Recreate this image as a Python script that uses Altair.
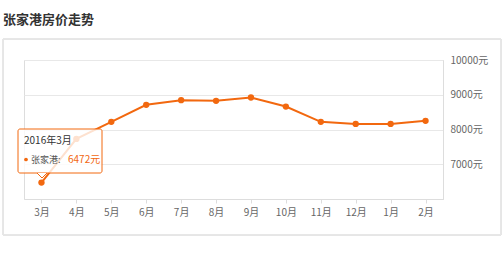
import altair as alt
import pandas as pd

months = ["3月", "4月", "5月", "6月", "7月", "8月", "9月", "10月", "11月", "12月", "1月", "2月"]
prices = [6472, 7730, 8220, 8710, 8845, 8825, 8920, 8660, 8220, 8160, 8160, 8250]
y_ticks = [6000, 7000, 8000, 9000, 10000]
title_text = "张家港房价走势"
tip_date = "2016年3月"
tip_city = "张家港:"

df = pd.DataFrame({"month": months, "price": prices})
FONT = "Noto Sans CJK SC"
ORANGE = "#f2680f"

x = alt.X("month:N", sort=months, scale=alt.Scale(type="point", padding=0.5),
          axis=alt.Axis(title=None, labelAngle=0, labelFontSize=10, labelColor="#666",
                        labelFont=FONT, tickColor="#dddddd", tickSize=4, labelPadding=4,
                        domainColor="#dddddd", grid=False))
y = alt.Y("price:Q", scale=alt.Scale(domain=[6000, 10000], nice=False, zero=False),
          axis=alt.Axis(title=None, orient="right", values=y_ticks, grid=True,
                        gridColor="#e8e8e8", domainColor="#dddddd", ticks=False,
                        labelPadding=7, labelFontSize=10, labelColor="#666", labelFont=FONT,
                        labelExpr="datum.value == 6000 ? '' : datum.value + '元'"))

base = alt.Chart(df)

card = base.mark_rect(fill=None, stroke="#e6e6e6", strokeWidth=1).encode(
    x=alt.value(-21), x2=alt.value(477), y=alt.value(-21), y2=alt.value(175))

title = base.transform_filter(alt.datum.month == months[0]).mark_text(
    text=title_text, align="left", baseline="middle", fontSize=13, fontWeight="bold",
    color="#333", font=FONT).encode(x=alt.value(-21), y=alt.value(-40.5))

line = base.mark_line(color=ORANGE, strokeWidth=2).encode(x=x, y=y)
pts = base.mark_circle(color=ORANGE, size=40, opacity=1).encode(x=x, y=y)

tip_src = base.transform_filter(alt.datum.month == months[0])

box = tip_src.mark_rect(fill="white", fillOpacity=0.8, stroke=ORANGE, strokeWidth=1,
                        cornerRadius=2).encode(
    x=alt.value(-6), x2=alt.value(78), y=alt.value(69), y2=alt.value(113))
tri = tip_src.mark_point(shape="M-1,-0.5L0,0.5L1,-0.5", filled=True, fill="white",
                         stroke=ORANGE, strokeWidth=1, size=100, opacity=1).encode(
    x=alt.value(18), y=alt.value(115.5))
t_date = tip_src.mark_text(text=tip_date, align="left", baseline="middle", fontSize=10,
                           color="#333", font=FONT).encode(x=alt.value(0), y=alt.value(81))
t_dot = tip_src.mark_circle(color=ORANGE, size=14, opacity=1).encode(
    x=alt.value(2), y=alt.value(99.5))
t_city = tip_src.mark_text(text=tip_city, align="left", baseline="middle", fontSize=9,
                           color="#555", font=FONT).encode(x=alt.value(7), y=alt.value(99.5))
t_val = tip_src.transform_calculate(lbl="datum.price + '元'").mark_text(
    align="left", baseline="middle", fontSize=10, color=ORANGE, font=FONT).encode(
    x=alt.value(44), y=alt.value(99.5), text="lbl:N")

chart = alt.layer(card, title, line, pts, box, tri, t_date, t_dot, t_city, t_val).properties(
    width=419, height=139,
    autosize=alt.AutoSizeParams(type="none"),
    padding={"left": 24, "top": 60, "right": 61, "bottom": 57},
).configure_view(stroke=None).configure(background="white")

chart.save("out.html", embed_options={"renderer": "svg", "actions": False})
